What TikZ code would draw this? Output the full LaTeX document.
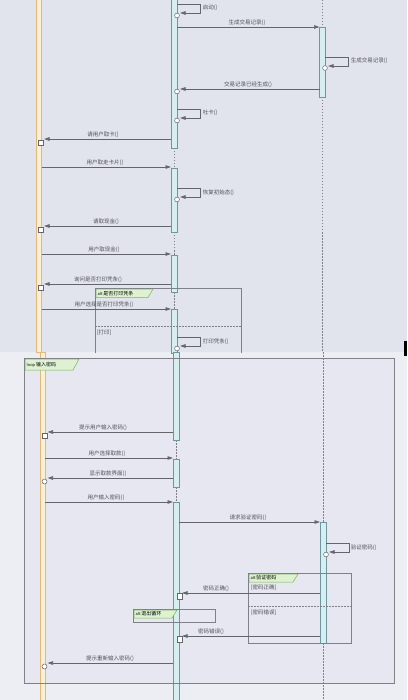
\documentclass[tikz,border=0pt]{standalone}
\usepackage{fontspec}
\newfontfamily\cjk{Noto Sans CJK SC}
\usetikzlibrary{arrows.meta}
\definecolor{bgtop}{RGB}{226,228,237}
\definecolor{bgbot}{RGB}{237,238,243}
\definecolor{bgloop}{RGB}{230,231,240}
\definecolor{actfill}{RGB}{214,238,240}
\definecolor{actedge}{RGB}{110,150,160}
\definecolor{lifefill}{RGB}{252,240,212}
\definecolor{lifeedge}{RGB}{226,185,120}
\definecolor{msggray}{RGB}{100,100,108}
\definecolor{txtgray}{RGB}{80,80,88}
\definecolor{framegray}{RGB}{128,128,136}
\definecolor{tabfill}{RGB}{222,242,210}
\definecolor{tabedge}{RGB}{120,180,90}
\tikzset{
  msg/.style={draw=msggray,line width=0.7pt,-{Triangle[length=5.5pt,width=3.5pt]}},
  lbl/.style={font=\cjk\fontsize{5.5}{6}\selectfont,text=txtgray,inner sep=0.6pt},
  actbar/.style={draw=actedge,fill=actfill,line width=0.6pt},
  lifebar/.style={draw=lifeedge,fill=lifefill,line width=0.8pt},
  lifeline/.style={draw=framegray,line width=0.5pt,dash pattern=on 1.5pt off 1.5pt},
  framebox/.style={draw=framegray,line width=0.8pt},
  tabbox/.style={draw=tabedge,fill=tabfill,line width=0.5pt},
  tablbl/.style={font=\cjk\fontsize{5}{6}\selectfont,text=black,inner sep=0.5pt,anchor=west},
  nub/.style={draw=msggray,fill=white,line width=0.5pt},
}
\begin{document}
\begin{tikzpicture}[x=1pt,y=-1pt]
\useasboundingbox (0,0) rectangle (407,700);
% backgrounds
\fill[bgtop] (0,0) rectangle (407,352);
\fill[bgbot] (0,352) rectangle (407,700);
\fill[black] (404,341) rectangle (407,356);
% ---------------- TOP PART ----------------
\draw[lifebar] (36.5,-1) rectangle (41.5,352);
\draw[lifeline] (174,148) -- (174,168);
\draw[lifeline] (174,232) -- (174,255);
\draw[lifeline] (174,292) -- (174,309);
\draw[lifeline] (322,0) -- (322,27);
\draw[lifeline] (322,97) -- (322,352);
\draw[actbar] (171,-1) rectangle (177,148);
\draw[actbar] (171,168) rectangle (177,232);
\draw[actbar] (171,255) rectangle (177,292);
\draw[actbar] (171,309) rectangle (177,353);
\draw[actbar] (319.5,27) rectangle (325,97);
% alt frame (top)
\draw[framebox] (95,353) -- (95,288) -- (241,288) -- (241,353);
\draw[tabbox] (96,289) -- (153,289) -- (148,297.5) -- (96,297.5) -- cycle;
\node[tablbl] (tab1) at (97,293.2) {\fontsize{4}{5}\selectfont alt\ \fontsize{5}{6}\selectfont 是否打印凭条};
\draw[framegray,line width=0.5pt,dash pattern=on 1.5pt off 1.5pt] (95,326) -- (241,326);
\node[lbl,anchor=west] (g1) at (96,333) {[打印]};

% self 1
\coordinate (s1a) at (177,4);
\coordinate (s1b) at (180,13);
\draw[msg] (s1a) -- ++(23,0) |- (s1b);
\draw[nub] (177,15.5) circle (2.4);
\node[lbl,anchor=west] (t1) at (202,8) {启动()};
% msg 2
\coordinate (m2a) at (177,27);
\coordinate (m2b) at (319.5,27);
\draw[msg] (m2a) -- (m2b);
\node[lbl,anchor=south] (t2) at (247,26) {生成交易记录()};
% self right
\coordinate (s2a) at (325,57);
\coordinate (s2b) at (328,66);
\draw[msg] (s2a) -- ++(23,0) |- (s2b);
\draw[nub] (325,68) circle (2.4);
\node[lbl,anchor=west] (t3) at (350,61) {生成交易记录()};
% return
\coordinate (m4a) at (319.5,89);
\coordinate (m4b) at (180,89);
\draw[msg] (m4a) -- (m4b);
\draw[nub] (177,91.5) circle (2.4);
\node[lbl,anchor=south] (t4) at (248,88) {交易记录已经生成()};
% self 3
\coordinate (s3a) at (177,109);
\coordinate (s3b) at (180,118);
\draw[msg] (s3a) -- ++(23,0) |- (s3b);
\draw[nub] (177,120.5) circle (2.4);
\node[lbl,anchor=west] (t5) at (202,113) {吐卡()};
% to left
\coordinate (m6a) at (171,139);
\coordinate (m6b) at (44,139);
\draw[msg] (m6a) -- (m6b);
\draw[nub] (38.5,140) rectangle (43.5,145.5);
\node[lbl,anchor=south] (t6) at (103,138) {请用户取卡()};
% left to mid
\coordinate (m7a) at (41.5,167);
\coordinate (m7b) at (171,167);
\draw[msg] (m7a) -- (m7b);
\node[lbl,anchor=south] (t7) at (105,166) {用户取走卡片()};
% self 4
\coordinate (s4a) at (177,188);
\coordinate (s4b) at (180,197);
\draw[msg] (s4a) -- ++(23,0) |- (s4b);
\draw[nub] (177,199.5) circle (2.4);
\node[lbl,anchor=west] (t8) at (202,193) {恢复初始态()};
% to left
\coordinate (m9a) at (171,226);
\coordinate (m9b) at (44,226);
\draw[msg] (m9a) -- (m9b);
\draw[nub] (38.5,227) rectangle (43.5,232.5);
\node[lbl,anchor=south] (t9) at (106,225) {请取现金()};
% left to mid
\coordinate (m10a) at (41.5,254);
\coordinate (m10b) at (171,254);
\draw[msg] (m10a) -- (m10b);
\node[lbl,anchor=south] (t10) at (104,253) {用户取现金()};
% to left
\coordinate (m11a) at (171,284);
\coordinate (m11b) at (44,284);
\draw[msg] (m11a) -- (m11b);
\draw[nub] (38.5,285) rectangle (43.5,290.5);
\node[lbl,anchor=south] (t11) at (98,283) {询问是否打印凭条()};
% left to mid
\coordinate (m12a) at (41.5,309);
\coordinate (m12b) at (171,309);
\draw[msg] (m12a) -- (m12b);
\node[lbl,anchor=south] (t12) at (104,308) {用户选择是否打印凭条()};
% self 5
\coordinate (s5a) at (177,337);
\coordinate (s5b) at (180,346);
\draw[msg] (s5a) -- ++(23,0) |- (s5b);
\draw[nub] (177,348.5) circle (2.4);
\node[lbl,anchor=west] (t13) at (202,342) {打印凭条()};

% ---------------- BOTTOM PART ----------------
\fill[bgloop] (24,358) rectangle (394,683);
\draw[lifebar] (40,352) rectangle (45,701);
\draw[lifeline] (176,440) -- (176,459);
\draw[lifeline] (176,487) -- (176,502);
\draw[lifeline] (323,352) -- (323,522);
\draw[lifeline] (323,643) -- (323,701);
\draw[actbar] (173,352) rectangle (179,440);
\draw[actbar] (173,459) rectangle (179,487);
\draw[actbar] (173,502) rectangle (179,701);
\draw[actbar] (320,522) rectangle (326,643);
% loop frame
\draw[framebox] (24,358) rectangle (394,683);
\draw[tabbox] (25,359) -- (79,359) -- (73,370) -- (25,370) -- cycle;
\node[tablbl] (tab2) at (26,364.5) {\fontsize{4}{5}\selectfont loop\ \fontsize{5}{6}\selectfont 输入密码};
% alt verify
\draw[framebox] (248,573) rectangle (351,643);
\draw[tabbox] (249,574) -- (298,574) -- (293,582) -- (249,582) -- cycle;
\node[tablbl] (tab3) at (250,578) {\fontsize{4}{5}\selectfont alt\ \fontsize{5}{6}\selectfont 验证密码};
\node[lbl,anchor=west] (g2) at (250,588) {[密码正确]};
\draw[framegray,line width=0.5pt,dash pattern=on 1.5pt off 1.5pt] (248,606) -- (351,606);
\node[lbl,anchor=west] (g3) at (250,613) {[密码错误]};
% alt exit loop
\draw[framebox] (133,609) rectangle (215,622);
\draw[tabbox] (134,610) -- (177,610) -- (172,618) -- (134,618) -- cycle;
\node[tablbl] (tab4) at (135,614) {\fontsize{4}{5}\selectfont alt\ \fontsize{5}{6}\selectfont 退出循环};

% b1
\coordinate (b1a) at (173,432);
\coordinate (b1b) at (47.5,432);
\draw[msg] (b1a) -- (b1b);
\draw[nub] (42,433) rectangle (47,438.5);
\node[lbl,anchor=south] (u1) at (103,431) {提示用户输入密码()};
% b2
\coordinate (b2a) at (45,458);
\coordinate (b2b) at (173,458);
\draw[msg] (b2a) -- (b2b);
\node[lbl,anchor=south] (u2) at (107,457) {用户选择取款()};
% b3
\coordinate (b3a) at (173,478);
\coordinate (b3b) at (47.5,478);
\draw[msg] (b3a) -- (b3b);
\draw[nub] (44.5,481.5) circle (2.5);
\node[lbl,anchor=south] (u3) at (108,477) {显示取款界面()};
% b4
\coordinate (b4a) at (45,502);
\coordinate (b4b) at (173,502);
\draw[msg] (b4a) -- (b4b);
\node[lbl,anchor=south] (u4) at (106,501) {用户输入密码()};
% b5
\coordinate (b5a) at (179,522);
\coordinate (b5b) at (320,522);
\draw[msg] (b5a) -- (b5b);
\node[lbl,anchor=south] (u5) at (248,521) {请求验证密码()};
% self right
\coordinate (s6a) at (326,543);
\coordinate (s6b) at (329,552);
\draw[msg] (s6a) -- ++(23,0) |- (s6b);
\draw[nub] (326,554.5) circle (2.4);
\node[lbl,anchor=west] (u6) at (350,548) {验证密码()};
% b8
\coordinate (b8a) at (320,593);
\coordinate (b8b) at (182,593);
\draw[msg] (b8a) -- (b8b);
\draw[nub] (177,593) rectangle (182,599);
\node[lbl,anchor=south] (u8) at (216,592) {密码正确()};
% b9
\coordinate (b9a) at (320,636);
\coordinate (b9b) at (182,636);
\draw[msg] (b9a) -- (b9b);
\draw[nub] (177,636) rectangle (182,642);
\node[lbl,anchor=south] (u9) at (211,635) {密码错误()};
% b10
\coordinate (b10a) at (173,663);
\coordinate (b10b) at (47.5,663);
\draw[msg] (b10a) -- (b10b);
\draw[nub] (44.5,666.5) circle (2.5);
\node[lbl,anchor=south] (u10) at (110,662) {提示重新输入密码()};
\end{tikzpicture}
\end{document}
